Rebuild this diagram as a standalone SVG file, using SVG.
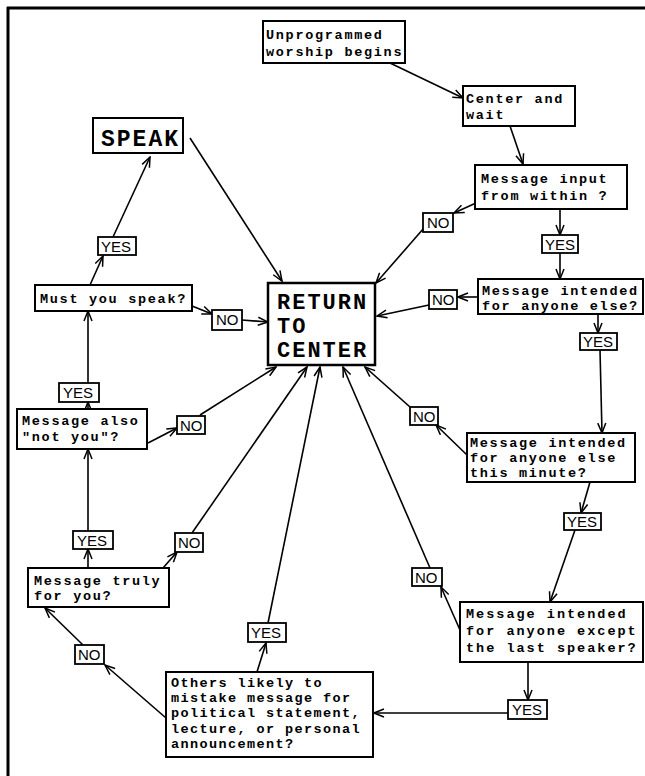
<svg xmlns="http://www.w3.org/2000/svg" width="645" height="776" viewBox="0 0 645 776">
<style>
.box{fill:#fff;stroke:#000;stroke-width:2}
.lbl{fill:#fff;stroke:#000;stroke-width:1.8}
.t{font-family:"Liberation Mono","DejaVu Sans Mono",monospace;font-size:13.5px;letter-spacing:1.7px;font-weight:bold;fill:#000}
.big{font-family:"Liberation Mono","DejaVu Sans Mono",monospace;font-size:22px;letter-spacing:2px;font-weight:bold;fill:#000}
.yn{font-family:"Liberation Sans",Arial,sans-serif;font-size:15px;fill:#000}
.c{fill:none;stroke:#000;stroke-width:1.6}
</style>
<defs>
<marker id="a" viewBox="0 0 12 10" refX="11" refY="5" markerWidth="12" markerHeight="10" markerUnits="userSpaceOnUse" orient="auto">
<path d="M1,1 L11,5 L1,9" fill="none" stroke="#000" stroke-width="1.5"/>
</marker>
</defs>
<rect width="645" height="776" fill="#fff"/>
<g id="frame" fill="none" stroke="#000" stroke-width="3">
<line x1="7" y1="8" x2="645" y2="8"/>
<line x1="8" y1="7" x2="8" y2="776"/>
</g>
<g id="connectors" class="c" marker-end="url(#a)">
<line x1="390" y1="63" x2="463" y2="98"/>
<line x1="510" y1="126" x2="523" y2="164"/>
<line x1="476" y1="203" x2="454" y2="213"/>
<line x1="424" y1="228" x2="376" y2="283"/>
<line x1="560" y1="209" x2="560" y2="235"/>
<line x1="560" y1="253" x2="560" y2="279"/>
<line x1="478" y1="297" x2="458" y2="297"/>
<line x1="429" y1="305" x2="377" y2="316"/>
<line x1="598" y1="314" x2="598" y2="333"/>
<line x1="600" y1="350" x2="602" y2="433"/>
<line x1="467" y1="455" x2="436" y2="425"/>
<line x1="410" y1="407" x2="365" y2="367"/>
<line x1="590" y1="482" x2="581" y2="513"/>
<line x1="575" y1="530" x2="550" y2="602"/>
<line x1="460" y1="630" x2="441" y2="587"/>
<line x1="430" y1="568" x2="343" y2="367"/>
<line x1="528" y1="662" x2="528" y2="700"/>
<line x1="508" y1="713" x2="374" y2="713"/>
<line x1="257" y1="672" x2="266" y2="643"/>
<line x1="268" y1="623" x2="320" y2="367"/>
<line x1="166" y1="718" x2="105" y2="665"/>
<line x1="83" y1="645" x2="45" y2="608"/>
<line x1="88" y1="568" x2="88" y2="549"/>
<line x1="163" y1="568" x2="177" y2="552"/>
<line x1="192" y1="533" x2="307" y2="367"/>
<line x1="88" y1="531" x2="88" y2="449"/>
<line x1="148" y1="443" x2="177" y2="428"/>
<line x1="200" y1="415" x2="276" y2="367"/>
<line x1="88" y1="409" x2="88" y2="402"/>
<line x1="88" y1="383" x2="88" y2="311"/>
<line x1="90" y1="285" x2="103" y2="256"/>
<line x1="113" y1="237" x2="150" y2="157"/>
<line x1="192" y1="306" x2="212" y2="314"/>
<line x1="242" y1="320" x2="268" y2="322"/>
<line x1="190" y1="138" x2="282" y2="281"/>
</g>
<g id="n-start"><rect class="box" x="263" y="21" width="142" height="42"/><text class="t" x="266" y="39">Unprogrammed</text><text class="t" x="266" y="56">worship begins</text></g>
<g id="n-center"><rect class="box" x="463" y="86" width="112" height="40"/><text class="t" x="466" y="103">Center and</text><text class="t" x="466" y="119">wait</text></g>
<g id="n-input"><rect class="box" x="475" y="165" width="152" height="44"/><text class="t" x="481" y="183">Message input</text><text class="t" x="481" y="200">from within ?</text></g>
<g id="n-else"><rect class="box" x="478" y="279" width="165" height="35"/><text class="t" x="482" y="295">Message intended</text><text class="t" x="482" y="310">for anyone else?</text></g>
<g id="n-minute"><rect class="box" x="467" y="433" width="168" height="49"/><text class="t" x="470" y="447">Message intended</text><text class="t" x="470" y="462">for anyone else</text><text class="t" x="470" y="477">this minute?</text></g>
<g id="n-except"><rect class="box" x="460" y="602" width="183" height="60"/><text class="t" x="466" y="618" style="letter-spacing:2px">Message intended</text><text class="t" x="466" y="635" style="letter-spacing:2px">for anyone except</text><text class="t" x="466" y="652" style="letter-spacing:2px">the last speaker?</text></g>
<g id="n-others"><rect class="box" x="166" y="672" width="207" height="85"/><text class="t" x="171" y="687" style="letter-spacing:1.4px">Others likely to</text><text class="t" x="171" y="702" style="letter-spacing:1.4px">mistake message for</text><text class="t" x="171" y="717" style="letter-spacing:1.4px">political statement,</text><text class="t" x="171" y="733" style="letter-spacing:1.4px">lecture, or personal</text><text class="t" x="171" y="748" style="letter-spacing:1.4px">announcement?</text></g>
<g id="n-truly"><rect class="box" x="28" y="568" width="141" height="39"/><text class="t" x="34" y="585">Message truly</text><text class="t" x="34" y="600">for you?</text></g>
<g id="n-also"><rect class="box" x="17" y="409" width="130" height="40"/><text class="t" x="22" y="425">Message also</text><text class="t" x="22" y="441">"not you"?</text></g>
<g id="n-must"><rect class="box" x="35" y="285" width="157" height="26"/><text class="t" x="40" y="303">Must you speak?</text></g>
<g id="n-speak"><rect class="box" x="93" y="118" width="90" height="35"/><text class="big" x="101" y="146" style="font-size:23px">SPEAK</text></g>
<g id="n-return"><rect class="box" x="268" y="283" width="107" height="82" style="stroke-width:2.5"/><text class="big" x="277" y="309">RETURN</text><text class="big" x="277" y="333">TO</text><text class="big" x="277" y="357">CENTER</text></g>
<g id="l-no-input"><rect class="lbl" x="423" y="213" width="30" height="19"/><text class="yn" x="427" y="228">NO</text></g>
<g id="l-yes-input"><rect class="lbl" x="542" y="235" width="36" height="18"/><text class="yn" x="545" y="250">YES</text></g>
<g id="l-no-else"><rect class="lbl" x="429" y="290" width="28" height="19"/><text class="yn" x="432" y="305">NO</text></g>
<g id="l-yes-else"><rect class="lbl" x="580" y="333" width="37" height="17"/><text class="yn" x="583" y="347">YES</text></g>
<g id="l-no-minute"><rect class="lbl" x="410" y="407" width="28" height="18"/><text class="yn" x="413" y="422">NO</text></g>
<g id="l-yes-minute"><rect class="lbl" x="564" y="513" width="37" height="17"/><text class="yn" x="567" y="527">YES</text></g>
<g id="l-no-except"><rect class="lbl" x="412" y="568" width="30" height="18"/><text class="yn" x="415" y="583">NO</text></g>
<g id="l-yes-except"><rect class="lbl" x="508" y="700" width="39" height="19"/><text class="yn" x="512" y="715">YES</text></g>
<g id="l-yes-others"><rect class="lbl" x="248" y="623" width="38" height="19"/><text class="yn" x="251" y="638">YES</text></g>
<g id="l-no-others"><rect class="lbl" x="75" y="645" width="29" height="19"/><text class="yn" x="78" y="660">NO</text></g>
<g id="l-yes-truly"><rect class="lbl" x="73" y="531" width="40" height="18"/><text class="yn" x="77" y="546">YES</text></g>
<g id="l-no-truly"><rect class="lbl" x="175" y="533" width="28" height="19"/><text class="yn" x="178" y="548">NO</text></g>
<g id="l-no-also"><rect class="lbl" x="177" y="416" width="28" height="18"/><text class="yn" x="180" y="431">NO</text></g>
<g id="l-yes-also"><rect class="lbl" x="59" y="383" width="40" height="19"/><text class="yn" x="63" y="398">YES</text></g>
<g id="l-no-must"><rect class="lbl" x="212" y="310" width="30" height="20"/><text class="yn" x="216" y="325">NO</text></g>
<g id="l-yes-must"><rect class="lbl" x="98" y="237" width="38" height="18"/><text class="yn" x="101" y="252">YES</text></g>
</svg>
